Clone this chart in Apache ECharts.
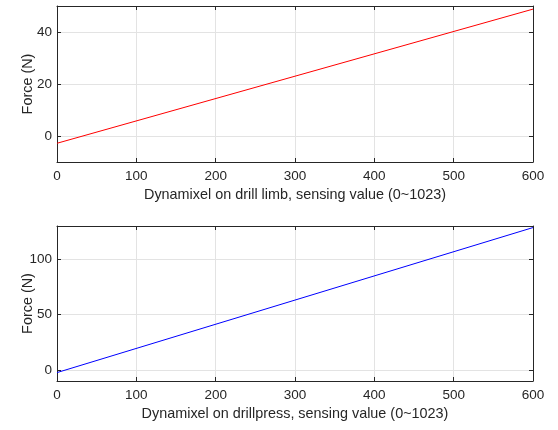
<!DOCTYPE html>
<html>
<head>
<meta charset="utf-8">
<script src="https://cdn.jsdelivr.net/npm/echarts@6/dist/echarts.min.js"></script>
<style>
html, body { margin: 0; padding: 0; background: #fff; }
#chart { width: 558px; height: 430px; }
</style>
</head>
<body>
<div id="chart"></div>
<script>
// readings (end points of each fitted line)
var limbX = [0, 600];
var limbForce = [-2.8, 48.8];
var pressX = [0, 600];
var pressForce = [-2.4, 128.6];

var xTicks = [0, 100, 200, 300, 400, 500, 600];
var limbTicks = [0, 20, 40];
var pressTicks = [0, 50, 100];

var textColor = '#262626';
var gridColor = '#e3e3e3';
var font = 'Liberation Sans, Arial, sans-serif';

function pairs(xs, ys) {
    var out = [];
    for (var i = 0; i < xs.length; i++) {
        out.push([xs[i], ys[i]]);
    }
    return out;
}

function xAxisFor(gridIndex, name) {
    return [{
        gridIndex: gridIndex, type: 'value', position: 'bottom',
        min: 0, max: 600,
        name: name, nameLocation: 'middle', nameGap: 26, nameMoveOverlap: false,
        nameTextStyle: { color: textColor, fontSize: 14.4, fontFamily: font },
        axisLine: { onZero: false, lineStyle: { color: textColor, width: 1 } },
        axisTick: { inside: true, length: 4, customValues: xTicks, lineStyle: { color: textColor } },
        axisLabel: { color: textColor, fontSize: 13.5, fontFamily: font, margin: 7, customValues: xTicks },
        splitLine: { show: true, lineStyle: { color: gridColor, width: 1 } }
    }, {
        gridIndex: gridIndex, type: 'value', position: 'top',
        min: 0, max: 600,
        axisLine: { onZero: false, lineStyle: { color: textColor, width: 1 } },
        axisTick: { inside: true, length: 4, customValues: xTicks, lineStyle: { color: textColor } },
        axisLabel: { show: false },
        splitLine: { show: false }
    }];
}

function yAxisFor(gridIndex, min, max, ticks) {
    return [{
        gridIndex: gridIndex, type: 'value', position: 'left',
        min: min, max: max,
        name: 'Force (N)', nameLocation: 'middle', nameGap: 22, nameMoveOverlap: false,
        nameTextStyle: { color: textColor, fontSize: 14.4, fontFamily: font },
        axisLine: { show: true, onZero: false, lineStyle: { color: textColor, width: 1 } },
        axisTick: { show: true, inside: true, length: 4, customValues: ticks, lineStyle: { color: textColor } },
        axisLabel: { color: textColor, fontSize: 13.5, fontFamily: font, margin: 5, customValues: ticks },
        splitLine: { show: true, lineStyle: { color: gridColor, width: 1 } }
    }, {
        gridIndex: gridIndex, type: 'value', position: 'right',
        min: min, max: max,
        axisLine: { show: true, onZero: false, lineStyle: { color: textColor, width: 1 } },
        axisTick: { show: true, inside: true, length: 4, customValues: ticks, lineStyle: { color: textColor } },
        axisLabel: { show: false },
        splitLine: { show: false }
    }];
}

var chart = echarts.init(document.getElementById('chart'), null, { renderer: 'canvas' });

chart.setOption({
    animation: false,
    backgroundColor: '#fff',
    grid: [
        { left: 57, right: 25, top: 6, height: 156, outerBoundsMode: 'none' },
        { left: 57, right: 25, top: 226, height: 155, outerBoundsMode: 'none' }
    ],
    xAxis: xAxisFor(0, 'Dynamixel on drill limb, sensing value (0~1023)')
        .concat(xAxisFor(1, 'Dynamixel on drillpress, sensing value (0~1023)')),
    yAxis: yAxisFor(0, -10, 50, limbTicks).concat(yAxisFor(1, -10, 130, pressTicks)),
    series: [{
        type: 'line', xAxisIndex: 0, yAxisIndex: 0,
        data: pairs(limbX, limbForce),
        showSymbol: false,
        lineStyle: { color: '#ff0000', width: 1 }
    }, {
        type: 'line', xAxisIndex: 2, yAxisIndex: 2,
        data: pairs(pressX, pressForce),
        showSymbol: false,
        lineStyle: { color: '#0000ff', width: 1 }
    }]
});
</script>
</body>
</html>
